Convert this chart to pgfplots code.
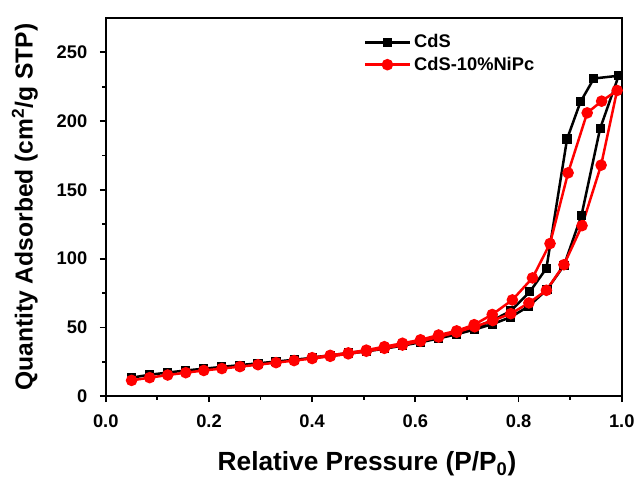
\documentclass[border=0pt]{standalone}
\usepackage{pgfplots}
\pgfplotsset{compat=1.18}
\usepackage{fontspec}
\setmainfont{Liberation Sans}
\begin{document}
\begin{tikzpicture}
\begin{axis}[
  at={(0,0)}, anchor=south west,
  scale only axis,
  width=310.2pt, height=227.4pt,
  xmin=0, xmax=1.0, ymin=0, ymax=275,
  xtick={0,0.2,0.4,0.6,0.8,1.0},
  ytick={0,50,100,150,200,250},
  minor x tick num=1, minor y tick num=1,
  tick align=outside, tick pos=left,
  major tick length=3.6pt, minor tick length=2.2pt,
  every tick/.style={black, line width=1.1pt},
  axis line style={line width=1.4pt},
  /pgf/number format/assume math mode=true,
  xticklabel style={/pgf/number format/fixed, /pgf/number format/fixed zerofill, /pgf/number format/precision=1, font=\fontsize{11}{12}\selectfont\bfseries, yshift=-4pt},
  yticklabel style={font=\fontsize{11}{12}\selectfont\bfseries, xshift=-4pt},
  xlabel={Relative Pressure (P/P$_{\mathbf{0}}$)},
  ylabel={Quantity Adsorbed (cm$^{\mathbf{2}}$/g STP)},
  xlabel style={font=\fontsize{15.8}{17}\selectfont\bfseries, yshift=-7.5pt, xshift=2pt},
  ylabel style={font=\fontsize{14.8}{16}\selectfont\bfseries, yshift=4.5pt},
  legend style={at={(rel axis cs:0.49,0.975)}, anchor=north west, draw=none, fill=none,
    font=\fontsize{11}{12}\selectfont\bfseries, row sep=0pt},
  legend cell align=left,
  legend image code/.code={\draw[mark repeat=2,mark phase=2] plot coordinates {(0cm,0cm)(0.47cm,0cm)(0.94cm,0cm)};},
]
\addplot[black, line width=1.5pt, mark=square*, mark size=2.0pt, mark options={solid}] coordinates {
(0.05,13.5)(0.085,15.6)(0.12,17.2)(0.155,18.7)(0.19,20.0)(0.225,21.3)(0.26,22.6)(0.295,23.9)
(0.33,25.2)(0.365,26.5)(0.40,27.9)(0.435,29.3)(0.47,30.9)(0.505,32.6)(0.54,34.5)(0.575,36.8)
(0.61,39.2)(0.645,42.0)(0.68,45.0)(0.715,48.5)(0.75,52.5)(0.785,57.5)(0.82,65.5)(0.855,77.5)
(0.888,95)(0.922,131.5)(0.958,194.5)(0.994,233)
(0.946,231)(0.92,214)(0.894,187)(0.854,93)(0.822,76)(0.785,62)(0.749,55)(0.714,50)
(0.68,46.5)(0.645,43)(0.61,40)(0.575,37.5)(0.54,35.2)(0.505,33.2)(0.47,31.4)(0.435,29.7)(0.40,28.2)
};
\addlegendentry{CdS}
\addplot[red, line width=1.5pt, mark=*, mark size=2.7pt, mark options={solid}] coordinates {
(0.05,11.5)(0.085,13.5)(0.12,15.4)(0.155,17.1)(0.19,18.7)(0.225,20.1)(0.26,21.5)(0.295,22.9)
(0.33,24.4)(0.365,25.9)(0.40,27.4)(0.435,29.0)(0.47,30.8)(0.505,32.7)(0.54,34.8)(0.575,37.2)
(0.61,40.0)(0.645,43.0)(0.68,46.5)(0.715,50.5)(0.75,55)(0.785,60)(0.82,67.8)(0.854,77)
(0.888,95.6)(0.923,124)(0.96,168)(0.991,222.3)
(0.961,214.5)(0.933,206)(0.896,162.4)(0.861,111)(0.827,86)(0.788,70)(0.749,59.4)(0.714,52)
(0.68,47.5)(0.645,44.5)(0.61,41)(0.575,38.5)(0.54,36)(0.505,33.5)(0.47,31.5)(0.435,29.7)(0.40,28)
};
\addlegendentry{CdS-10\%NiPc}
\end{axis}
\path[use as bounding box] (-63.6pt,-49.8pt) rectangle (320.4pt,238.2pt);
\end{tikzpicture}
\end{document}
